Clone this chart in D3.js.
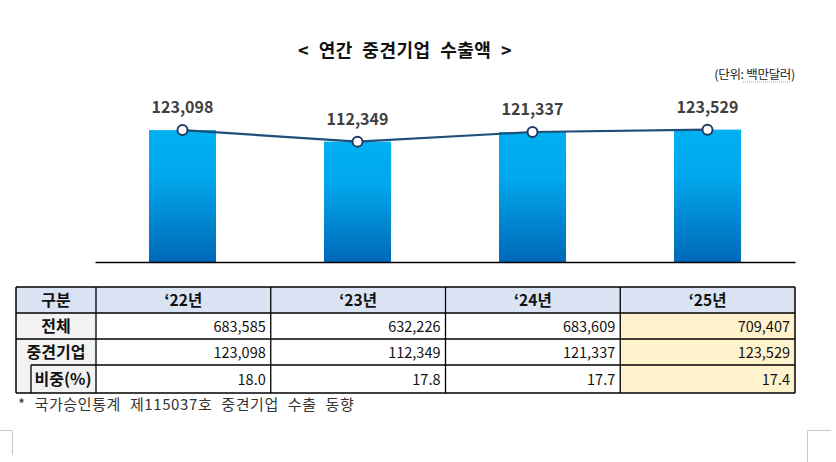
<!DOCTYPE html>
<html><head><meta charset="utf-8">
<script src="https://cdn.jsdelivr.net/npm/d3@7/dist/d3.min.js"></script>
<style>
html,body{margin:0;padding:0;background:#fff;}
svg{display:block;font-family:"Noto Sans CJK KR","Noto Sans",sans-serif;}
</style></head>
<body>
<svg id="c" width="836" height="462"></svg>
<script>
const years = ["‘22년", "‘23년", "‘24년", "‘25년"];
const totalExport = [683585, 632226, 683609, 709407];
const midExport = [123098, 112349, 121337, 123529];
const shareTxt = ["18.0", "17.8", "17.7", "17.4"];
const rowLabels = ["구분", "전체", "중견기업", "비중(%)"];
const title = "< 연간 중견기업 수출액 >";
const unit = "(단위: 백만달러)";
const note = "* 국가승인통계 제115037호 중견기업 수출 동향";

const svg = d3.select("#c");
const fmt = d3.format(",");

// title
svg.append("text").attr("x", 405).attr("y", 57).attr("text-anchor", "middle")
  .attr("font-size", 18).attr("font-weight", "bold").attr("fill", "#111")
  .attr("word-spacing", 5).attr("letter-spacing", 0.5).text(title);
svg.append("text").attr("x", 795).attr("y", 79).attr("text-anchor", "end")
  .attr("font-size", 12.5).attr("fill", "#222").attr("letter-spacing", -0.3).text(unit);
// spell-check squiggle under 백만달러
svg.append("line").attr("x1", 743).attr("x2", 790).attr("y1", 82).attr("y2", 82)
  .attr("stroke", "#e0a030").attr("stroke-width", 1).attr("stroke-dasharray", "1,1");

// gradient
const defs = svg.append("defs");
const g = defs.append("linearGradient").attr("id", "bg").attr("x1", 0).attr("y1", 0).attr("x2", 0).attr("y2", 1);
g.append("stop").attr("offset", "0%").attr("stop-color", "#00b0f0");
g.append("stop").attr("offset", "35%").attr("stop-color", "#00a8ec");
g.append("stop").attr("offset", "100%").attr("stop-color", "#0068b8");

const x = d3.scaleBand().domain(years).range([95, 795]).paddingInner(0.617).paddingOuter(0.3085);
const y = d3.scaleLinear().domain([0, 140000]).range([262, 112]);

svg.append("g").selectAll("rect").data(years).join("rect")
  .attr("x", d => x(d)).attr("width", x.bandwidth())
  .attr("y", (d, i) => y(midExport[i])).attr("height", (d, i) => y(0) - y(midExport[i]))
  .attr("fill", "url(#bg)");

// axis baseline
svg.append("g").attr("transform", `translate(0,${y(0)})`)
  .call(d3.axisBottom(x).tickSize(0).tickFormat(""))
  .call(s => s.select(".domain").attr("stroke", "#000").attr("stroke-width", 1.5));

const cx = d => x(d) + x.bandwidth() / 2;
const line = d3.line().x((d, i) => cx(years[i])).y(d => y(d));
svg.append("path").datum(midExport).attr("d", line)
  .attr("fill", "none").attr("stroke", "#1f4e79").attr("stroke-width", 2.2);
svg.append("g").selectAll("circle").data(midExport).join("circle")
  .attr("cx", (d, i) => cx(years[i])).attr("cy", d => y(d)).attr("r", 5)
  .attr("fill", "#fff").attr("stroke", "#1f3a60").attr("stroke-width", 2);
svg.append("g").selectAll("text").data(midExport).join("text")
  .attr("x", (d, i) => cx(years[i])).attr("y", d => y(d) - 17)
  .attr("text-anchor", "middle").attr("font-size", 16).attr("font-weight", "bold")
  .attr("fill", "#404040").text(d => fmt(d));

// table
const tx = d3.scaleBand().domain(years).range([96, 795]);
const rowY = [287, 313, 339, 365, 393];
const tLeft = 16;
const T = svg.append("g");
T.append("rect").attr("x", tLeft).attr("y", rowY[0]).attr("width", 795 - tLeft).attr("height", rowY[1] - rowY[0]).attr("fill", "#dae3f3");
T.append("rect").attr("x", tLeft).attr("y", rowY[1]).attr("width", 96 - tLeft).attr("height", rowY[4] - rowY[1]).attr("fill", "#f2f2f2");
T.append("rect").attr("x", tx(years[3])).attr("y", rowY[1]).attr("width", tx.bandwidth()).attr("height", rowY[4] - rowY[1]).attr("fill", "#fff2cc");

const ln = (x1, y1, x2, y2, w) => T.append("line").attr("x1", x1).attr("y1", y1).attr("x2", x2).attr("y2", y2)
  .attr("stroke", "#000").attr("stroke-width", w || 1.3);
ln(tLeft, rowY[0], 795, rowY[0], 1.5);
ln(tLeft, rowY[1], 795, rowY[1]);
ln(tLeft, rowY[2], 795, rowY[2]);
ln(31, rowY[3], 795, rowY[3]);
ln(tLeft, rowY[4], 795, rowY[4], 1.5);
ln(tLeft, rowY[0], tLeft, rowY[4], 1.5);
ln(31, rowY[3], 31, rowY[4]);
years.forEach(d => ln(tx(d), rowY[0], tx(d), rowY[4]));
ln(795, rowY[0], 795, rowY[4], 1.5);

const mid = (i) => (rowY[i] + rowY[i + 1]) / 2 + 5.5;
const labX = [56, 56, 56, 63];
rowLabels.forEach((t, i) => {
  T.append("text").attr("x", labX[i]).attr("y", mid(i)).attr("text-anchor", "middle")
    .attr("font-size", 16).attr("font-weight", "bold").attr("fill", "#111").text(t);
});
T.append("g").selectAll("text").data(years).join("text")
  .attr("x", d => tx(d) + tx.bandwidth() / 2).attr("y", mid(0)).attr("text-anchor", "middle")
  .attr("font-size", 15.5).attr("font-weight", "bold").attr("fill", "#111").text(d => d);
const rows = [totalExport.map(fmt), midExport.map(fmt), shareTxt];
rows.forEach((r, ri) => {
  T.append("g").selectAll("text").data(r).join("text")
    .attr("x", (d, i) => tx(years[i]) + tx.bandwidth() - 5).attr("y", mid(ri + 1))
    .attr("text-anchor", "end").attr("font-size", 14.5).attr("fill", "#111").text(d => d);
});

svg.append("text").attr("x", 18).attr("y", 410).attr("font-size", 15).attr("fill", "#333")
  .attr("word-spacing", 5).attr("letter-spacing", 0.6).text(note);

// page corner marks
svg.append("path").attr("d", "M0,430.5H12.5V455").attr("fill", "none").attr("stroke", "#c8c8c8");
svg.append("path").attr("d", "M807.5,462V430.5H831").attr("fill", "none").attr("stroke", "#c8c8c8");
</script>
</body></html>
